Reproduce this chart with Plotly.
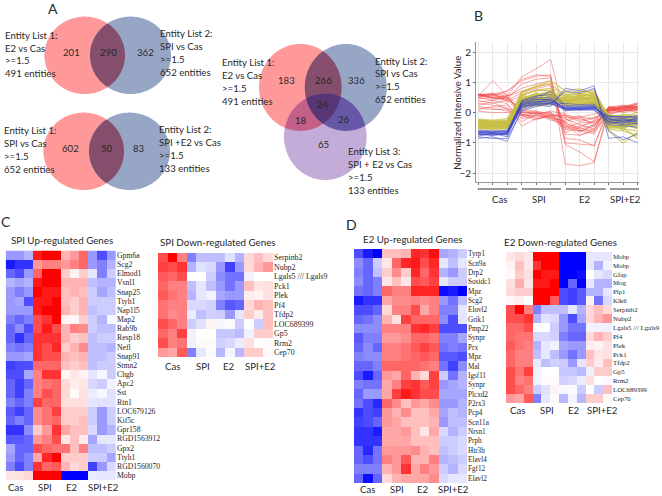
"""Venn diagrams, profile plot and heatmaps for the SPI / E2 expression figure."""

from __future__ import annotations

import numpy as np
import plotly.graph_objects as go

WIDTH = 662
HEIGHT = 496

# ---- panel A ----
ENTITY_TEXT_1 = ["Entity List 1:", "E2 vs Cas", ">=1.5", "491 entities"]
ENTITY_TEXT_2 = ["Entity List 2:", "SPI vs Cas", ">=1.5", "652 entities"]
ENTITY_TEXT_3 = ["Entity List 1:", "SPI vs Cas", ">=1.5", "652 entities"]
ENTITY_TEXT_4 = ["Entity List 2:", "SPI +E2 vs Cas", ">=1.5", "133 entities"]
ENTITY_TEXT_5 = ["Entity List 3:", "SPI + E2 vs Cas", ">=1.5", "133 entities"]
VENN_TOP_COUNTS = ["201", "290", "362"]
VENN_BOTTOM_COUNTS = ["602", "50", "83"]
VENN_TRIPLE_COUNTS = ["183", "266", "336", "24", "18", "26", "65"]

# ---- panel B ----
SAMPLE_GROUPS = ["Cas", "SPI", "E2", "SPI+E2"]
Y_TICKS = [-2, -1, 0, 1, 2]
RED_LINES = [
    [0.55, 1.05, 0.55, 1.18, 1.45, 1.75, -0.15, -0.60, -0.55, 0.10, 0.20, 0.25],
    [0.60, 0.62, 0.70, 1.05, 1.20, 1.25, -1.70, -1.75, -1.65, 0.05, 0.15, 0.20],
    [0.50, 0.55, 0.72, 1.10, 1.25, 1.20, -1.05, -1.30, -1.62, 0.15, 0.10, 0.30],
    [0.60, 0.50, 0.45, 0.95, 1.10, 1.15, -0.85, -0.90, -1.10, 0.18, 0.25, 0.15],
    [0.58, 0.60, 0.55, 0.80, 0.95, 1.05, -1.00, -1.05, -1.08, 0.05, 0.20, 0.33],
    [0.60, 0.45, 0.55, 0.70, 0.85, 0.95, -0.70, -0.75, -0.55, 0.18, 0.10, 0.22],
    [0.45, 0.50, 0.40, 0.65, 0.80, 0.90, -0.55, -0.60, -0.45, 0.10, 0.15, 0.20],
    [0.55, 0.65, 0.35, 0.55, 0.75, 0.70, -0.40, -0.55, -0.40, 0.05, 0.18, 0.12],
    [0.50, 0.40, 0.30, -0.45, -0.20, -0.10, -0.10, -0.30, -0.20, 0.15, 0.20, 0.15],
    [0.30, 0.25, 0.15, -0.30, -0.05, -0.25, -0.35, -0.50, -0.25, 0.12, 0.05, 0.18],
    [0.25, 0.35, 0.10, -0.20, -0.10, -0.15, -0.30, -0.65, -0.40, 0.10, 0.18, 0.10],
    [0.20, 0.15, 0.05, -0.10, -0.25, -0.05, -0.20, -0.40, -0.55, 0.20, 0.10, 0.05],
    [0.10, 0.20, 0.25, -0.15, 0.00, -0.20, -0.50, -0.35, -0.30, 0.00, 0.05, 0.15],
    [0.05, 0.00, 0.00, -0.05, -0.15, -0.10, -0.15, -0.20, -0.35, 0.05, 0.12, 0.00],
    [0.15, 0.10, 0.12, 0.00, -0.05, 0.05, -0.05, -0.25, -0.15, -0.05, 0.10, 0.08],
    [0.60, 0.58, 0.50, 0.00, 0.05, -0.20, -0.25, -0.10, -0.45, 0.15, 0.22, 0.20],
    [0.55, 0.50, 0.55, -0.10, -0.10, 0.00, -0.65, -0.50, -0.65, 0.08, 0.05, 0.12],
    [0.58, 0.55, 0.48, 0.05, -0.02, -0.08, -0.40, -0.75, -0.60, -0.05, 0.05, 0.22],
    [0.62, 0.48, 0.45, 0.10, 0.05, -0.05, -0.10, -0.15, -0.05, 0.10, 0.15, 0.28],
    [0.35, 0.40, 0.52, -0.05, -0.20, -0.15, -0.45, -0.60, -0.70, 0.02, 0.12, 0.18],
    [0.40, 0.30, 0.42, -0.08, 0.00, -0.12, -0.30, -0.15, -0.20, 0.15, 0.00, 0.10],
    [0.52, 0.60, 0.62, 0.02, -0.02, 0.02, -0.55, -0.45, -0.30, 0.18, 0.18, 0.30],
]
YELLOW_LINES = [
    [-0.22, -0.25, -0.20, 0.55, 0.75, 0.80, 0.65, 0.70, 0.68, -0.10, -0.15, 0.00],
    [-0.28, -0.30, -0.28, 0.65, 0.90, 0.95, 0.55, 0.60, 0.75, -0.20, -0.05, -0.10],
    [-0.30, -0.33, -0.30, 0.45, 0.60, 0.55, 0.48, 0.55, 0.58, -0.25, -0.30, -0.20],
    [-0.33, -0.36, -0.32, 0.40, 0.55, 0.60, 0.42, 0.50, 0.50, -0.30, -0.25, -0.35],
    [-0.35, -0.38, -0.35, 0.35, 0.45, 0.50, 0.38, 0.44, 0.46, -0.35, -0.40, -0.30],
    [-0.38, -0.40, -0.37, 0.50, 0.62, 0.68, 0.60, 0.62, 0.60, -0.45, -0.42, -0.50],
    [-0.40, -0.42, -0.40, 0.30, 0.40, 0.42, 0.35, 0.38, 0.42, -0.15, -0.20, -0.12],
    [-0.42, -0.45, -0.42, 0.28, 0.36, 0.40, 0.32, 0.34, 0.36, -0.55, -0.60, -0.75],
    [-0.44, -0.47, -0.44, 0.42, 0.52, 0.48, 0.28, 0.30, 0.32, -0.28, -0.35, -0.45],
    [-0.46, -0.48, -0.46, 0.60, 0.72, 0.75, 0.25, 0.28, 0.30, -0.60, -1.00, -0.65],
    [-0.48, -0.50, -0.48, 0.25, 0.30, 0.34, 0.50, 0.56, 0.54, -0.40, -0.50, -0.85],
    [-0.50, -0.52, -0.50, 0.20, 0.26, 0.30, 0.44, 0.46, 0.48, -0.20, -0.28, -0.38],
    [-0.52, -0.54, -0.52, 0.38, 0.44, 0.46, 0.22, 0.24, 0.26, -0.32, -0.38, -0.28],
    [-0.54, -0.56, -0.53, 0.34, 0.38, 0.44, 0.40, 0.42, 0.44, -0.48, -0.55, -0.60],
    [-0.26, -0.28, -0.25, 0.15, 0.22, 0.26, 0.30, 0.33, 0.35, -0.12, -0.18, -0.22],
    [-0.36, -0.34, -0.33, 0.70, 0.85, 1.05, 0.72, 0.78, 0.62, -0.08, -0.10, -0.15],
    [-0.31, -0.35, -0.34, 0.48, 0.56, 0.64, 0.52, 0.50, 0.66, -0.52, -0.46, -0.42],
    [-0.43, -0.41, -0.45, 0.32, 0.48, 0.52, 0.36, 0.48, 0.40, -0.36, -0.32, -0.55],
    [-0.47, -0.44, -0.49, 0.26, 0.34, 0.38, 0.46, 0.36, 0.34, -0.44, -0.52, -0.33],
    [-0.24, -0.32, -0.27, 0.44, 0.58, 0.56, 0.58, 0.64, 0.52, -0.24, -0.22, -0.28],
    [-0.29, -0.27, -0.31, 0.24, 0.50, 0.36, 0.42, 0.26, 0.38, -0.05, -0.26, -0.18],
    [-0.39, -0.37, -0.36, 0.52, 0.30, 0.58, 0.34, 0.58, 0.28, -0.42, -0.14, -0.40],
    [-0.49, -0.46, -0.43, 0.36, 0.66, 0.32, 0.54, 0.40, 0.56, -0.16, -0.48, -0.24],
    [-0.34, -0.43, -0.39, 0.58, 0.42, 0.72, 0.26, 0.52, 0.44, -0.30, -0.58, -0.08],
]
BLUE_LINES = [
    [-0.85, -0.80, -0.95, 0.10, 0.25, 0.20, 0.80, 0.72, 0.88, -0.85, -0.80, -1.00],
    [-0.80, -0.85, -0.85, 0.05, 0.20, 0.30, 0.70, 0.65, 0.80, -0.60, -0.90, -0.70],
    [-0.70, -0.72, -0.68, 0.25, 0.35, 0.40, 0.15, 0.12, 0.18, -0.25, -0.20, -0.25],
    [-0.65, -0.68, -0.66, 0.30, 0.42, 0.45, 0.12, 0.15, 0.16, -0.18, -0.22, -0.30],
    [-0.62, -0.65, -0.62, 0.20, 0.32, 0.36, 0.18, 0.16, 0.20, -0.30, -0.35, -0.15],
    [-0.68, -0.70, -0.70, 0.35, 0.48, 0.52, 0.10, 0.12, 0.14, -0.12, -0.15, -0.10],
    [-0.72, -0.74, -0.72, 0.15, 0.28, 0.30, 0.14, 0.18, 0.22, -0.35, -0.30, -0.38],
    [-0.60, -0.64, -0.60, 0.40, 0.55, 0.60, 0.20, 0.22, 0.24, -0.22, -0.28, -0.20],
    [-0.66, -0.62, -0.64, 0.28, 0.38, 0.34, 0.08, 0.10, 0.12, -0.40, -0.45, -0.48],
    [-0.74, -0.70, -0.74, 0.32, 0.44, 0.42, 0.16, 0.14, 0.15, -0.15, -0.12, -0.18],
    [-0.58, -0.60, -0.58, 0.18, 0.30, 0.28, 0.12, 0.08, 0.10, -0.28, -0.25, -0.32],
    [-0.64, -0.66, -0.68, 0.38, 0.52, 0.70, 0.24, 0.20, 0.18, -0.20, -0.34, -0.24],
    [-0.70, -0.76, -0.66, 0.22, 0.26, 0.32, 0.30, 0.26, 0.28, -0.10, -0.16, -0.14],
    [-0.78, -0.68, -0.80, 0.26, 0.34, 0.46, 0.06, 0.10, 0.08, -0.32, -0.40, -0.36],
]

# ---- panel C ----
GENES_C_UP = [
    "Gpm6a", "Scg2", "Elmod1", "Vsnl1", "Snap25", "Ttyh1", "Nap1l5", "Map2", "Rab9b",
    "Resp18", "Nefl", "Snap91", "Stmn2", "Chgb", "Apc2", "Sst", "Rtn1", "LOC679126",
    "Kif5c", "Gpr158", "RGD1563912", "Gpx2", "Ttyh1", "RGD1560070", "Mobp",
]
Z_C_UP = [
    [-4, -4, -3, 9, 10, 10, 3, 4, 6, -4, -7, -4],
    [-9, -8, -8, 4, 5, 5, 4, 5, 6, -4, -5, -3],
    [-6, -7, -4, 6, 10, 10, 2, 0.5, 2, -1, -5, -2],
    [-3, -3.5, -3, 9, 10, 10, 3, 3, 3, -2.5, -3, -3],
    [-4, -5, -4, 10, 9, 9, 2.5, 3, 2.5, -2, -3.5, -2.5],
    [-4, -3.5, -7, 9, 9, 10, 2.5, 2, 3, -2, -2, -2],
    [-4, -4, -4, 9, 10, 10, 3, 2, 3, -2.5, -2, -2],
    [-5, -6, -5, 7, 8, 10, 0.5, 0.3, 2, -2, -3, -0.3],
    [-6, -4.5, -7, 7, 9, 7, 3, 5, 4.5, -2, -2.5, -2.5],
    [-6, -8, -6, 8, 8, 8, 3, 2, 2.5, -2.5, -2, -2],
    [-5, -5.5, -5, 8, 7, 8.5, 2, 3, 4.5, -2.5, -2.5, -3],
    [-4, -4, -3.5, 8, 7, 7, 3, 2.5, 3, -2.5, -2.5, -2],
    [-7.5, -7, -7, 6, 6, 6, 2.5, 2, 2.5, -2.5, -2, -2],
    [-7, -7, -3.5, 5, 8, 8, 0.3, 1, 0.5, -1, -0.3, -2],
    [-6, -7.5, -6, 5, 5.5, 6, 1.5, 0.7, 1, -1.5, -2, -0.5],
    [-6, -7.5, -5, 5, 7, 6, 1.5, 0.2, 1.2, -0.7, -0.3, -1.2],
    [-5, -6, -5, 7.5, 6, 6, 1.3, 1.3, 1.3, -1, -1.2, -1.2],
    [-6.5, -7.5, -6, 4.5, 5.5, 7.5, 2, 2, 2, -2, -4, -2],
    [-6, -5, -6, 4.5, 5.5, 6, 2, 2, 2.5, -2, -4, -2],
    [-8, -8, -4.5, 2, 4, 8, 3.5, 2.5, 2.5, -1.5, -4, -3],
    [-6.5, -6.5, -6, 4, 5, 7, 1, 2.5, 0.8, -3.5, -1, -1],
    [-3.5, -6, -6, 7, 6, 5.5, 5.5, 2.5, 5, -2.5, -2.5, -2],
    [-4, -6, -5, 3.5, 8.5, 10, 2, 2, 2, -2, -2, -3.5],
    [-5, -7, -5, 8, 6, 6.5, 3, 1.5, 2, -7.5, -4, -1.5],
    [1, 1.2, 1.6, 10, 10, 10, -10, -10, -10, -0.8, -1, -1],
]
GENES_C_DOWN = [
    "Serpinb2", "Nubp2", "Lgals5 /// Lgals9", "Pck1", "Plek", "Pf4", "Tfdp2",
    "LOC689399", "Gp5", "Rrm2", "Cep70",
]
Z_C_DOWN = [
    [7, 10, 5, -5, -2.5, -2.5, -2.5, -1.2, -3, 1.5, 2.5, 1.5],
    [7.5, 7, 8, -3, -1.2, -1.5, -4, -7.5, -4, 1.5, 3, 4],
    [6.5, 6, 7, 0, 0, -2, -4.5, -5.5, -5.5, -0.5, 0, 0],
    [6, 5, 5, -2.5, -1, -2.5, -4, -5.5, -4, 2.5, 1, 1.2],
    [6.5, 5.5, 5, -3, -1, -0.5, -3.5, -4, -4, 0.7, 0.5, 1.2],
    [5.5, 5, 5, -1.5, -1.5, -1.8, -5, -6.5, -6, 1.5, 3, 2.5],
    [5.5, 4.5, 5, -0.8, -2.5, -1.8, -2, -4, -1, 2, 0.8, 2.5],
    [7, 6, 5, -2, -1.2, 0.5, -0.3, -0.2, -2, 0, -2, 2.5],
    [6, 5, 7.5, -0.5, 0, 0, -2.2, -2.2, -2.7, -0.6, 2, 2],
    [7, 5, 5.5, -0.5, 0.2, 0.2, -1.8, -1.5, -0.8, 1.2, 0, -0.2],
    [4, 3.5, 6.5, -5, -1, -0.2, -2.8, -0.4, -2.8, 2, 2, 0.2],
]

# ---- panel D ----
GENES_D_UP = [
    "Tyrp1", "Scn9a", "Drp2", "Sostdc1", "Mpz", "Scg2", "Elovl2", "Grik1", "Pmp22",
    "Synpr", "Prx", "Mpz", "Mal", "Igsf11", "Synpr", "Plcxd2", "P2rx3", "Pcp4",
    "Scn11a", "Nrsn1", "Prph", "Htr3b", "Elavl4", "Fgf12", "Elavl2",
]
Z_D_UP = [
    [-7, -9, -10, 2.5, 2.5, 3, 8.5, 8, 9.5, -3.5, -3, -2],
    [-4.5, -6, -2, 1, 6, 8.5, 9, 7, 8.5, -1, -2.5, -1],
    [-5, -6, -2.5, 2, 4.5, 2, 8.5, 6, 8, -3, -4, -2],
    [-4.5, -6, -5, 1, 2.5, 1, 7, 6.5, 7.5, -1, -2, -2],
    [-5.5, -6, -5, 6, 5, 5, 8.5, 8.5, 8.5, -9.5, -9, -10],
    [-9, -8, -8, 3.5, 4.5, 4.5, 5, 4.5, 5, -4, -5.5, -2.5],
    [-7, -7, -6, 1.5, 5, 5, 7, 3.5, 5, -5, -5, -1],
    [-6, -5.5, -4.5, 3, 1.2, 7.5, 6, 6, 6, -4.5, -7, -1],
    [-4.5, -4.5, -4.5, 5, 5, 5, 8, 8.5, 7.5, -7, -7, -7],
    [-6.5, -5, -5, 4, 4, 4.5, 6, 6, 5.5, -5, -5, -3.5],
    [-6, -4.5, -6, 5, 5, 5.5, 6.5, 7.5, 6.5, -5.5, -5, -5.5],
    [-5, -4.5, -4.5, 5, 5, 5.5, 6, 6.5, 6, -6.5, -6.5, -7],
    [-6, -6, -5, 6, 6, 6, 6, 5.5, 5, -5.5, -7.5, -4.5],
    [-7, -9, -6, 4, 3.5, 6, 3, 1.5, 7.5, -2, -5.5, -3],
    [-5, -5.5, -5.5, 3.5, 5, 7.5, 8, 6.5, 7.5, -4, -3.5, -3],
    [-6, -4, -4, 3.5, 7.5, 9, 8, 7, 7, -3.5, -3.5, -3.5],
    [-5.5, -7, -8.5, 6, 4.5, 2.5, 4, 3.5, 4.5, -4, -4, -3],
    [-8, -7, -7.5, 4, 3, 4.5, 2.5, 2.5, 3.5, -3.5, -2.5, -3],
    [-7.5, -7, -6, 4, 3.5, 2.5, 2.5, 2.5, 3, -4, -2.5, -2.5],
    [-8, -8, -9, 3.5, 3.5, 4, 2.5, 1, 3.5, -1.5, -3, -2],
    [-8, -8, -8, 3.5, 3.5, 3.5, 2.5, 2.5, 2.5, -2, -2, -1.5],
    [-6, -8.5, -5.5, 4, 4, 4, 4.5, 3, 2.5, -2.5, -2, -1.5],
    [-6, -7, -5.5, 5, 4, 6.5, 3, 3, 5, -3, -2.5, -2],
    [-5, -5, -5, 3, 4, 8, 3.5, 5, 4, -2, -3, -1.5],
    [-6, -9.5, -6, 1.5, 3, 3.5, 3.5, 3.5, 4.5, -1.5, -1, -1],
]
GENES_D_DOWN = [
    "Mobp", "Mobp", "Gfap", "Mog", "Plp1", "Klk6", "Serpinb2", "Nubp2",
    "Lgals5 /// Lgals9", "Pf4", "Plek", "Pck1", "Tfdp2", "Gp5", "Rrm2",
    "LOC689399", "Cep70",
]
Z_D_DOWN = [
    [1, 1.5, 1, 10, 10, 10, -10, -10, -10, -1, -1, -1],
    [0.5, 2.5, 1, 8, 10, 10, -10, -10, -10, -1, -3, -0.5],
    [0.2, 2, 1.2, 10, 9, 9, -10, -10, -9.5, 0, -1, -1.5],
    [1.2, 3.2, 1, 9, 9, 10, -10, -6, -10, -1, -3, -3],
    [1.5, 2, 2, 10, 10, 10, -7, -7.5, -6.5, -3, -3, -1],
    [0.3, 0.6, 0, 10, 10, 6.5, -7, -7.5, -6.5, 0.5, -5.5, -1.5],
    [7, 10, 5, -5, -2.5, -2.5, -2.5, -1, -3, 1.5, 2.5, 1.5],
    [7, 7, 8, -3, -1.2, -1.5, -4, -7, -3.5, 1.5, 3, 4],
    [6, 6, 7, 0, 0, -2, -4, -5.5, -5.5, -0.5, -0.5, -0.5],
    [6, 5.5, 5.5, -1.5, -1.5, -1.8, -5, -6, -6, 1.5, 3, 2],
    [6.5, 5.5, 5, -3, -1, -0.5, -3.5, -4, -4, 0.7, 0.5, 1.2],
    [6, 5, 5, -2.5, -1, -2.5, -4, -5.5, -4, 2.5, 1, 1.2],
    [6, 5, 5, -0.8, -2.5, -1.8, -2, -4, -1, 2, 0.8, 2.5],
    [7, 5.5, 7.5, -0.5, 0, 0, -2.2, -2.2, -2.7, -0.6, 2, 2],
    [7, 5, 5.5, -0.5, 0.2, 0.2, -1.8, -1.5, -0.8, 1.2, 0, -0.2],
    [7, 6, 5, -2, -1.2, 0.5, -0.3, -0.2, -2, 0, -2, 2.5],
    [4, 3.5, 6.5, -5, -1, -0.2, -2.8, -0.4, -2.8, 2, 2, 0.2],
]

TEXT_FONT = "Lato"
GENE_FONT = "Liberation Serif"
TEXT_COLOR = "rgb(40, 40, 40)"
HEAT_SCALE = [[0.0, "rgb(0, 0, 255)"], [0.5, "rgb(255, 255, 255)"], [1.0, "rgb(255, 0, 0)"]]

RED = "rgb(255, 152, 152)"
BLUE = "rgb(152, 166, 198)"
PURPLE = "rgb(196, 172, 216)"
RED_BLUE = "rgb(132, 78, 108)"
RED_PURPLE = "rgb(196, 96, 136)"
BLUE_PURPLE = "rgb(102, 88, 166)"
ALL_THREE = "rgb(88, 54, 118)"

fig = go.Figure()
shapes = []
annotations = []


def px_domain_x(left, right):
    return [left / WIDTH, right / WIDTH]


def px_domain_y(top, bottom):
    return [1 - bottom / HEIGHT, 1 - top / HEIGHT]


def add_text(x, y, text, size=9.6, anchor="center", family=TEXT_FONT, color=TEXT_COLOR, angle=0):
    annotations.append(dict(
        x=x, y=y, xref="x6", yref="y6", text=text, showarrow=False,
        xanchor=anchor, yanchor="middle", align="left" if anchor == "left" else "center",
        font=dict(family=family, size=size, color=color), borderpad=0, textangle=angle,
    ))


def add_block(x, y, lines, pitch=12.8):
    # each line placed on its own so the spacing follows the picture
    start = y - pitch * (len(lines) - 1) / 2
    for i, line in enumerate(lines):
        add_text(x, start + i * pitch, line, anchor="left")


def ellipse_points(e, n=240):
    t = np.linspace(0, 2 * np.pi, n, endpoint=False)
    return np.column_stack([e[0] + e[2] * np.cos(t), e[1] + e[3] * np.sin(t)])


def inside(points, e):
    return ((points[:, 0] - e[0]) / e[2]) ** 2 + ((points[:, 1] - e[1]) / e[3]) ** 2 <= 1.0


def add_polygon(points, color):
    path = "M" + "L".join(f"{x:.2f},{y:.2f}" for x, y in points) + "Z"
    shapes.append(dict(type="path", path=path, xref="x6", yref="y6",
                       fillcolor=color, line=dict(width=0), layer="above"))


def add_region(members, color):
    # boundary of the intersection of convex ellipses, ordered around its centre
    pts = []
    for e in members:
        p = ellipse_points(e)
        for other in members:
            if other is not e:
                p = p[inside(p, other)]
        pts.append(p)
    pts = np.vstack(pts)
    centre = pts.mean(axis=0)
    order = np.argsort(np.arctan2(pts[:, 1] - centre[1], pts[:, 0] - centre[0]))
    add_polygon(pts[order], color)


def add_venn_pair(left, right):
    add_polygon(ellipse_points(left), RED)
    add_polygon(ellipse_points(right), BLUE)
    add_region([left, right], RED_BLUE)


# -- panel A --
V1_L, V1_R = (84.7, 55.3, 40.3, 38.7), (130.5, 55.3, 40.5, 38.7)
V2_L, V2_R = (83.7, 151.3, 40.3, 38.7), (129.5, 151.3, 40.5, 38.7)
V3_R, V3_B, V3_P = (300.3, 87.4, 41.3, 43.5), (345.8, 87.4, 41.0, 43.5), (325.3, 136.7, 41.3, 43.3)

add_venn_pair(V1_L, V1_R)
add_venn_pair(V2_L, V2_R)
add_polygon(ellipse_points(V3_R), RED)
add_polygon(ellipse_points(V3_B), BLUE)
add_polygon(ellipse_points(V3_P), PURPLE)
add_region([V3_R, V3_B], RED_BLUE)
add_region([V3_R, V3_P], RED_PURPLE)
add_region([V3_B, V3_P], BLUE_PURPLE)
add_region([V3_R, V3_B, V3_P], ALL_THREE)

add_block(3.5, 54.5, ENTITY_TEXT_1)
add_block(159, 52.8, ENTITY_TEXT_2)
add_block(2.5, 150, ENTITY_TEXT_3)
add_block(158, 149, ENTITY_TEXT_4)
add_block(221, 82, ENTITY_TEXT_1)
add_block(374, 80.3, ENTITY_TEXT_2)
add_block(347, 171, ENTITY_TEXT_5)

for (x, y), label in zip([(71.7, 52), (108.3, 52), (145.7, 52)], VENN_TOP_COUNTS):
    add_text(x, y, label)
for (x, y), label in zip([(70.7, 148.3), (107.3, 148.3), (139.3, 148.3)], VENN_BOTTOM_COUNTS):
    add_text(x, y, label)
triple_at = [(286.7, 80), (323.3, 80), (356, 80), (322.7, 104.3), (301.3, 120), (344.3, 119), (323.7, 144.7)]
for (x, y), label in zip(triple_at, VENN_TRIPLE_COUNTS):
    add_text(x, y, label)

# -- panel letters and titles --
add_text(52.7, 8, "A", size=14)
add_text(478, 15, "B", size=14)
add_text(6, 221, "C", size=14)
add_text(351.7, 224, "D", size=14)
add_text(62, 240, "SPI Up-regulated Genes", size=9.75)
add_text(217.5, 242, "SPI Down-regulated Genes", size=9.75)
add_text(412.5, 239, "E2 Up-regulated Genes", size=9.75)
add_text(560, 242, "E2 Down-regulated Genes", size=9.75)

# -- panel B --
# red first: the dense yellow and blue band sits on top of it
sample_x = list(range(12))
for lines, color, width in [
    (RED_LINES, "rgba(240, 70, 70, 0.8)", 0.6),
    (YELLOW_LINES, "rgba(200, 190, 65, 0.7)", 1.3),
    (BLUE_LINES, "rgba(55, 65, 200, 0.55)", 1.0),
]:
    for values in lines:
        fig.add_trace(go.Scatter(
            x=sample_x, y=values, mode="lines", xaxis="x", yaxis="y",
            line=dict(color=color, width=width), hoverinfo="skip", showlegend=False,
        ))

for (start, end), name, x in zip(
    [(477.7, 517.3), (521.7, 561), (566, 605.7), (610, 639)],
    SAMPLE_GROUPS,
    [499, 539.3, 585, 625],
):
    shapes.append(dict(type="line", x0=start, x1=end, y0=189, y1=189, xref="x6", yref="y6",
                       line=dict(color="rgb(50, 50, 50)", width=1)))
    add_text(x, 199, name)
add_text(456.7, 113, "Normalized Intensive Value", size=9.6, angle=-90)

# -- panels C and D --
HEATMAPS = [
    (2, Z_C_UP, GENES_C_UP, (5.7, 116, 250.5, 480), 7.7, [15.7, 45, 71.7, 103.3], 487),
    (3, Z_C_DOWN, GENES_C_DOWN, (158, 273, 253, 357), 7.9, [172.7, 202.7, 229.3, 260.7], 366),
    (4, Z_D_UP, GENES_D_UP, (354, 467, 249, 483), 7.2, [367.7, 396.7, 423.3, 453.3], 489),
    (5, Z_D_DOWN, GENES_D_DOWN, (506, 612, 252, 403), 6.8, [517.3, 546.7, 574.3, 602.7], 410.7),
]

axes = {}
for n, z, genes, (left, right, top, bottom), gene_size, label_x, label_y in HEATMAPS:
    fig.add_trace(go.Heatmap(
        z=z, xaxis=f"x{n}", yaxis=f"y{n}", zmin=-10, zmax=10,
        colorscale=HEAT_SCALE, showscale=False, hoverinfo="skip",
    ))
    axes[f"xaxis{n}"] = dict(domain=px_domain_x(left, right), anchor=f"y{n}", visible=False,
                             range=[-0.5, 11.5])
    axes[f"yaxis{n}"] = dict(
        domain=px_domain_y(top, bottom), anchor=f"x{n}", side="right",
        range=[len(genes) - 0.5, -0.5], tickmode="array",
        tickvals=list(range(len(genes))), ticktext=genes, ticks="",
        showgrid=False, zeroline=False, showline=False,
        tickfont=dict(family=GENE_FONT, size=gene_size, color="rgb(30, 30, 30)"),
    )
    for x, name in zip(label_x, SAMPLE_GROUPS):
        add_text(x, label_y, name)

fig.update_layout(
    width=WIDTH,
    height=HEIGHT,
    margin=dict(l=0, r=0, t=0, b=0),
    autosize=False,
    paper_bgcolor="white",
    plot_bgcolor="rgba(0,0,0,0)",
    showlegend=False,
    xaxis=dict(
        domain=px_domain_x(476, 639), range=[-0.16, 11.1], anchor="y",
        tickmode="array", tickvals=sample_x, ticktext=[""] * 12, ticks="outside", ticklen=2,
        tickcolor="rgb(110, 110, 110)", showgrid=True, gridcolor="rgb(232, 232, 232)",
        zeroline=False, showline=True, linecolor="rgb(150, 150, 150)",
    ),
    yaxis=dict(
        domain=px_domain_y(42, 182), range=[-2.29, 2.33], anchor="x",
        tickmode="array", tickvals=Y_TICKS, ticks="outside", ticklen=2,
        tickcolor="rgb(110, 110, 110)", showgrid=True, gridcolor="rgb(232, 232, 232)",
        zeroline=False, showline=True, linecolor="rgb(150, 150, 150)",
        tickfont=dict(family=TEXT_FONT, size=10, color=TEXT_COLOR),
    ),
    # full-page axes in pixel units, used for the Venn diagrams and all free text
    xaxis6=dict(domain=[0, 1], range=[0, WIDTH], anchor="y6", visible=False, fixedrange=True),
    yaxis6=dict(domain=[0, 1], range=[HEIGHT, 0], anchor="x6", visible=False, fixedrange=True),
    shapes=shapes,
    annotations=annotations,
    **axes,
)
# an empty trace so the page axes exist
fig.add_trace(go.Scatter(x=[], y=[], xaxis="x6", yaxis="y6", hoverinfo="skip"))

# the default page keeps an 8px body margin, which would shift everything
fig.write_html(
    "out.html",
    config={"displayModeBar": False},
    post_script="document.body.style.margin = '0';",
)
